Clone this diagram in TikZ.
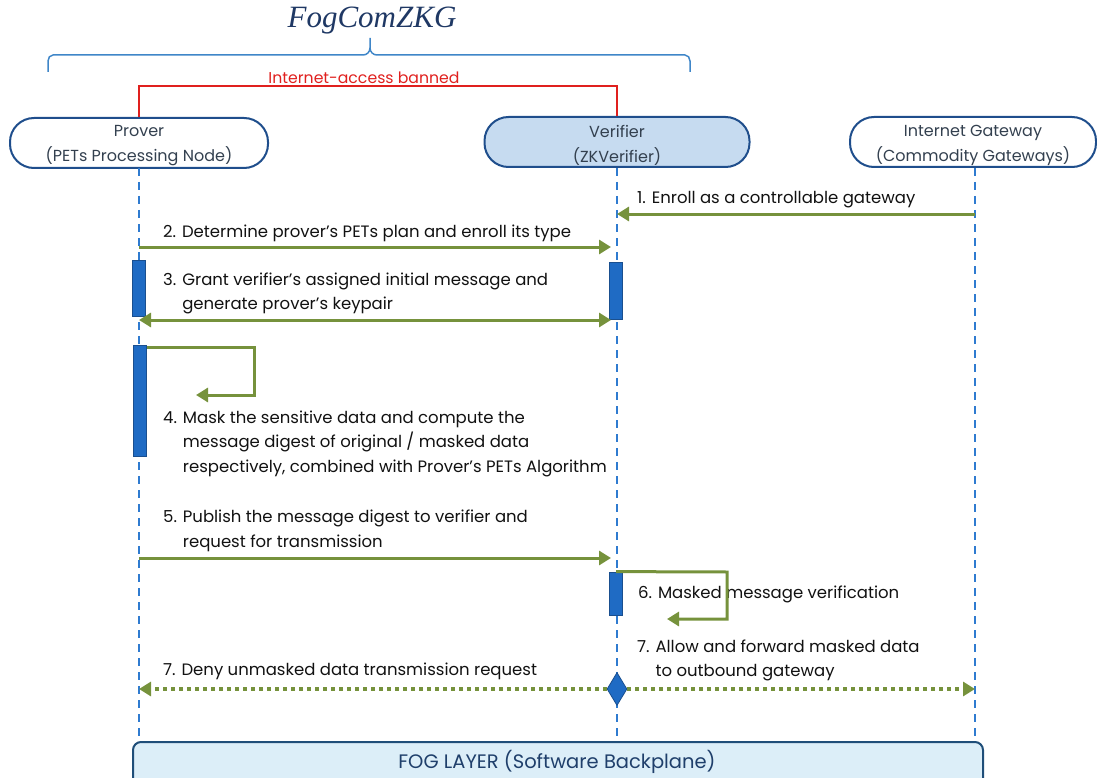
\documentclass[tikz,border=0pt]{standalone}
\usepackage{fontspec}
\setmainfont{Poppins}
\newfontfamily\titlefont{Liberation Serif}
\usetikzlibrary{arrows.meta,shapes.geometric}
\definecolor{grn}{HTML}{76923C}
\definecolor{life}{HTML}{2F7BD0}
\definecolor{actf}{HTML}{1F6BC4}
\definecolor{actd}{HTML}{1A4F8F}
\definecolor{nodeb}{HTML}{1F4E8C}
\definecolor{verf}{HTML}{C6DBF0}
\definecolor{fogf}{HTML}{DCEEF8}
\definecolor{fogd}{HTML}{1F4E79}
\definecolor{fogt}{HTML}{1F3F6B}
\definecolor{brc}{HTML}{3F86C8}
\definecolor{redl}{HTML}{E0201E}
\definecolor{ttl}{HTML}{1F3864}
\definecolor{ntext}{HTML}{33404F}
\definecolor{mtext}{HTML}{111111}
\tikzset{
  actor/.style={draw=nodeb, line width=2pt, rounded corners=24pt, minimum height=50pt,
    inner sep=0pt, label={[actortext]center:#1}},
  actortext/.style={align=center, font=\fontsize{16}{25}\selectfont, text=ntext, inner sep=0pt, yshift=-3pt},
  lifeline/.style={draw=life, line width=1.6pt, dash pattern=on 8pt off 6pt},
  actbox/.style={draw=actd, fill=actf, line width=0.8pt, minimum width=13pt, inner sep=0pt},
  msg/.style={draw=grn, line width=3pt, -{Triangle[length=12pt,width=14pt]}},
  dmsg/.style={draw=grn, line width=3pt, {Triangle[length=12pt,width=14pt]}-{Triangle[length=12pt,width=14pt]}},
  dotmsg/.style={draw=grn, line width=4pt, dash pattern=on 4pt off 4pt, -{Triangle[length=12pt,width=14pt]}},
  selfmsg/.style={draw=grn, line width=3pt, -{Triangle[length=12pt,width=14pt]}},
  lbl/.style={anchor=west, align=left, inner sep=0pt, text=mtext, font=\fontsize{16.5}{24.5}\selectfont},
}
\begin{document}
\begin{tikzpicture}[x=1pt,y=-1pt]
\useasboundingbox (0,0) rectangle (1097,778);
% title and brace
\node[text=ttl, font=\titlefont\itshape\fontsize{31}{31}\selectfont] (title) at (372,21) {FogComZKG};
\draw[brc, line width=1.5pt] (48,72) -- (48,61) to[out=90,in=180] (53,55) -- (363,55)
  to[out=0,in=270] (370,48) -- (370,38);
\draw[brc, line width=1.5pt] (370,48) to[out=270,in=180] (377,55) -- (685,55)
  to[out=0,in=90] (690,61) -- (690,72);
% actors
\node[actor={Prover\\(PETs Processing Node)}, minimum width=258pt] (prover) at (139,143) {};
\node[actor={Verifier\\(ZKVerifier)}, fill=verf, minimum width=265pt] (verifier) at (617,142) {};
\node[actor={Internet Gateway\\(Commodity Gateways)}, minimum width=246pt] (gateway) at (973,142) {};
% red banned line
\draw[redl, line width=1.3pt] (prover.north) -- (prover.north |- 0,86) -- (verifier.north |- 0,86) -- (verifier.north);
\node[text=redl, font=\fontsize{15.7}{15.7}\selectfont, inner sep=0pt] (banned) at (364,78) {Internet-access banned};
% fog layer
\node[draw=fogd, fill=fogf, line width=2pt, rounded corners=8pt, minimum width=850pt, minimum height=48pt] (fog) at (558,766) {};
\node[text=fogt, font=\fontsize{19.5}{19.5}\selectfont, inner sep=0pt] (fogtext) at (557,762) {FOG LAYER (Software Backplane)};
% lifelines
\coordinate (pl) at (139,168);
\coordinate (vl) at (617,168);
\coordinate (gl) at (975,168);
\draw[lifeline] (pl) -- (pl |- fog.north);
\draw[lifeline] (vl) -- (vl |- fog.north);
\draw[lifeline] (gl) -- (gl |- fog.north);
% activation boxes
\node[actbox, minimum height=56pt] (a3p) at (139,288) {};
\node[actbox, minimum height=57pt] (a3v) at (616,290.5) {};
\node[actbox, minimum height=111pt] (a4p) at (140,400.5) {};
\node[actbox, minimum height=43pt] (a6v) at (616,593.5) {};
% message 1
\coordinate (m1g) at (975,214);
\coordinate (m1v) at (617,214);
\draw[msg] (m1g) -- (m1v);
\node[lbl] (t1) at (637,200) {1. Enroll as a controllable gateway};
% message 2
\coordinate (m2p) at (139,247);
\coordinate (m2v) at (611,247);
\draw[msg] (m2p) -- (m2v);
\node[lbl] (t2) at (163,233) {2. Determine prover’s PETs plan and enroll its type};
% message 3
\coordinate (m3p) at (139,320);
\coordinate (m3v) at (611,320);
\draw[dmsg] (m3p) -- (m3v);
\node[lbl] (t3) at (163,293.5) {3. Grant verifier’s assigned initial message and\\\hphantom{3. }generate prover’s keypair};
% message 4 (self)
\coordinate (s4a) at (254,347);
\coordinate (s4b) at (254,395);
\coordinate (s4c) at (196,395);
\draw[selfmsg] (a4p.north east |- 0,347) -- (s4a) -- (s4b) -- (s4c);
\node[lbl] (t4) at (163,443.5) {4. Mask the sensitive data and compute the\\\hphantom{4. }message digest of original / masked data\\\hphantom{4. }respectively, combined with Prover’s PETs Algorithm};
% message 5
\coordinate (m5p) at (139,558);
\coordinate (m5v) at (611,558);
\draw[msg] (m5p) -- (m5v);
\node[lbl] (t5) at (163,531) {5. Publish the message digest to verifier and\\\hphantom{5. }request for transmission};
% message 6 (self)
\node[lbl] (t6) at (638,594) {6. Masked message verification};
\coordinate (s6a) at (727,572);
\coordinate (s6b) at (727,619);
\coordinate (s6c) at (667,619);
\draw[selfmsg] (a6v.north) -- (s6a) -- (s6b) -- (s6c);
% message 7
\node[diamond, draw=actd, fill=actf, line width=0.8pt, minimum width=20pt, minimum height=33pt, inner sep=0pt] (dia) at (617,689) {};
\coordinate (m7p) at (139,689);
\coordinate (m7g) at (975,689);
\draw[dotmsg] (dia.west) -- (m7p);
\draw[dotmsg] (dia.east) -- (m7g);
\node[lbl] (t7l) at (163,671) {7. Deny unmasked data transmission request};
\node[lbl] (t7r) at (637,660.5) {7. Allow and forward masked data\\\hphantom{7. }to outbound gateway};
\end{tikzpicture}
\end{document}
